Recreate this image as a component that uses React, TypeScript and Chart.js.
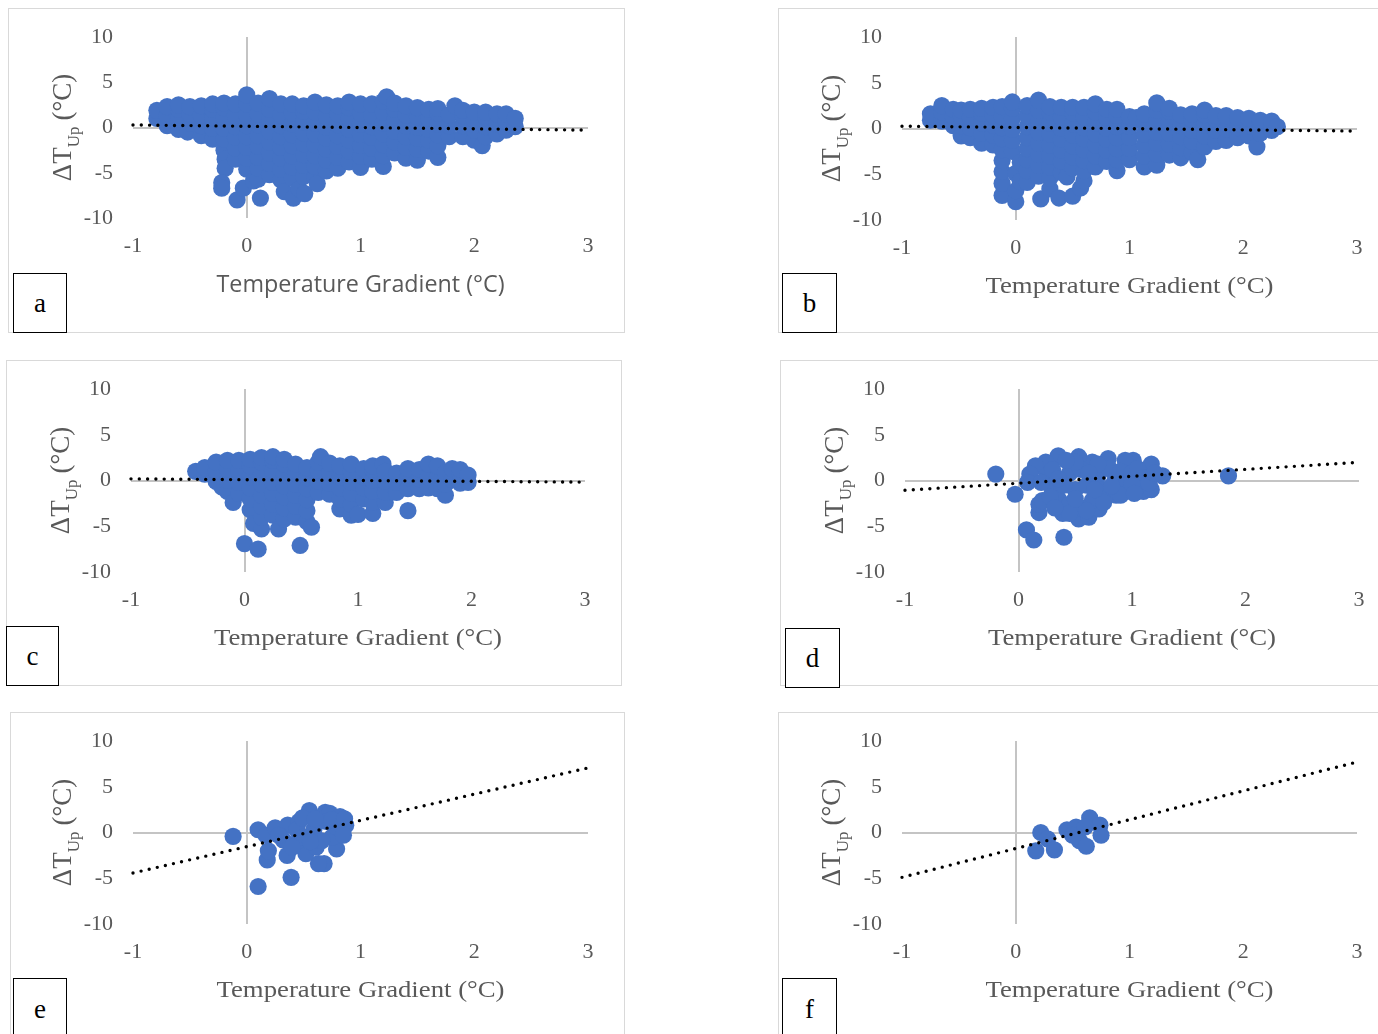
import React, { useEffect, useRef } from "react";
import { Chart, registerables } from "chart.js";

Chart.register(...registerables);

// Each cloud column: [gradient, [ΔT_Up values observed at that gradient]]
type Column = [number, number[]];

const X_MIN = -1;
const X_MAX = 3;
const Y_MIN = -10;
const Y_MAX = 10;
const X_STEP = 1;
const Y_STEP = 5;
const X_TITLE = "Temperature Gradient (°C)";
const Y_TITLE_MAIN = "ΔT";
const Y_TITLE_SUB = "Up";
const Y_TITLE_UNIT = "(°C)";
const PANEL_LETTERS = ["a", "b", "c", "d", "e", "f"];

const cloudA: Column[] = [
  [-0.79, [1.0, 1.9]],
  [-0.7, [0.2, 1.3, 2.3]],
  [-0.6, [-0.2, 0.9, 2.0, 2.5]],
  [-0.52, [-0.5]],
  [-0.5, [0.5, 1.5, 2.3]],
  [-0.4, [-0.9, 0.2, 1.3, 2.4]],
  [-0.3, [-1.3, -0.1, 1.0, 2.0, 2.6]],
  [-0.2, [-2.5, -1.3, -0.1, 1.1, 2.2, 2.7]],
  [-0.19, [-3.5, -4.5]],
  [-0.22, [-6.1, -6.7]],
  [-0.1, [-3.5, -2.3, -1.1, 0.1, 1.3, 2.6]],
  [-0.085, [-8.0]],
  [0.0, [-4.6, -3.4, -2.2, -1.0, 0.2, 1.4, 2.6, 3.6]],
  [-0.03, [-6.7]],
  [0.06, [-5.9]],
  [0.1, [-5.7, -4.5, -3.3, -2.1, -0.9, 0.3, 1.5, 2.7]],
  [0.12, [-7.8]],
  [0.2, [-5.2, -4.0, -2.8, -1.6, -0.4, 0.8, 2.0, 3.2]],
  [0.3, [-5.8, -4.6, -3.4, -2.2, -1.0, 0.2, 1.4, 2.6]],
  [0.33, [-7.1]],
  [0.4, [-5.6, -4.4, -3.2, -2.0, -0.8, 0.4, 1.6, 2.6]],
  [0.41, [-7.8]],
  [0.46, [-6.8]],
  [0.5, [-5.4, -4.2, -3.0, -1.8, -0.6, 0.6, 1.8, 2.4]],
  [0.51, [-7.3]],
  [0.6, [-5.5, -4.3, -3.1, -1.9, -0.7, 0.5, 1.7, 2.8]],
  [0.62, [-6.2]],
  [0.7, [-4.8, -3.6, -2.4, -1.2, 0.0, 1.2, 2.5]],
  [0.8, [-4.5, -3.3, -2.1, -0.9, 0.3, 1.5, 2.4]],
  [0.9, [-3.8, -2.6, -1.4, -0.2, 1.0, 2.2, 2.8]],
  [1.0, [-4.4, -3.2, -2.0, -0.8, 0.4, 1.6, 2.6]],
  [1.1, [-3.5, -2.3, -1.1, 0.1, 1.3, 2.6]],
  [1.2, [-4.3, -3.1, -1.9, -0.7, 0.5, 1.7, 2.9]],
  [1.23, [3.4]],
  [1.3, [-2.8, -1.6, -0.4, 0.8, 2.0, 2.7]],
  [1.4, [-3.4, -2.2, -1.0, 0.2, 1.4, 2.4]],
  [1.5, [-3.6, -2.4, -1.2, 0.0, 1.2, 2.2]],
  [1.6, [-2.6, -1.4, -0.2, 1.0, 2.0]],
  [1.68, [-3.3, -2.0, -0.8, 0.4, 1.6, 2.1]],
  [1.78, [-1.0, 0.2, 1.4]],
  [1.83, [2.4]],
  [1.9, [-1.0, 0.2, 1.3, 1.9]],
  [2.0, [-1.4, -0.3, 0.8, 1.7]],
  [2.07, [-2.0]],
  [2.1, [-1.0, 0.1, 1.2, 1.7]],
  [2.2, [-0.7, 0.4, 1.5]],
  [2.28, [-0.3, 0.7, 1.5]],
  [2.36, [0.1, 1.0]],
];

const cloudB: Column[] = [
  [-0.75, [0.9, 1.6]],
  [-0.65, [0.8, 1.8, 2.5]],
  [-0.55, [0.3, 1.3, 2.1]],
  [-0.48, [-0.8, 0.3, 1.4, 2.0]],
  [-0.4, [-1.0, 0.1, 1.2, 2.1]],
  [-0.3, [-1.6, -0.5, 0.6, 1.7, 2.2]],
  [-0.2, [-1.8, -0.7, 0.4, 1.5, 2.3]],
  [-0.12, [-7.3, -6.0, -4.7, -3.5, -2.3, -1.1, 0.1, 1.3, 2.4]],
  [-0.03, [-2.5, -1.3, -0.1, 1.1, 2.2, 2.9]],
  [0.0, [-8.0, -6.8, -4.9]],
  [0.04, [-3.7, -5.8]],
  [0.1, [-5.9, -4.6, -3.4, -2.2, -1.0, 0.2, 1.4, 2.5]],
  [0.2, [-5.2, -4.0, -2.8, -1.6, -0.4, 0.8, 2.0, 3.1]],
  [0.22, [-7.7]],
  [0.3, [-6.6, -5.4, -4.2, -3.0, -1.8, -0.6, 0.6, 1.8, 2.4]],
  [0.38, [-7.6]],
  [0.4, [-4.8, -3.6, -2.4, -1.2, 0.0, 1.2, 2.3]],
  [0.45, [-5.3]],
  [0.5, [-7.4, -4.3, -3.1, -1.9, -0.7, 0.5, 1.7, 2.3]],
  [0.57, [-6.5]],
  [0.6, [-5.7, -4.6, -3.5, -2.3, -1.1, 0.1, 1.3, 2.3]],
  [0.7, [-4.2, -3.0, -1.8, -0.6, 0.6, 1.8, 2.7]],
  [0.8, [-3.6, -2.4, -1.2, 0.0, 1.2, 2.1]],
  [0.89, [-4.6, -3.4, -2.2, -1.0, 0.2, 1.4, 2.1]],
  [1.0, [-3.4, -2.2, -1.0, 0.2, 1.3]],
  [1.06, [1.2]],
  [1.13, [-4.2, -3.0, -1.8, -0.6, 0.6, 1.6]],
  [1.24, [-4.0, -2.8, -1.6, -0.4, 0.8, 2.0, 2.8]],
  [1.35, [-2.9, -1.7, -0.5, 0.7, 1.9, 2.2]],
  [1.45, [-3.2, -2.1, -0.9, 0.3, 1.5]],
  [1.55, [-2.6, -1.4, -0.2, 1.0, 1.6]],
  [1.6, [-3.4]],
  [1.66, [-2.0, -0.8, 0.4, 1.5, 2.0]],
  [1.76, [-1.4, -0.2, 1.0, 1.4]],
  [1.85, [-1.3, -0.1, 1.1, 1.4]],
  [1.95, [-1.0, 0.1, 1.2]],
  [2.05, [-0.8, 0.3, 1.1]],
  [2.12, [-2.0]],
  [2.15, [-0.5, 0.5, 0.9]],
  [2.25, [-0.2, 0.8]],
  [2.3, [0.2]],
];

const cloudC: Column[] = [
  [-0.43, [1.0]],
  [-0.35, [0.7, 1.4]],
  [-0.25, [-0.1, 1.0, 2.0]],
  [-0.2, [-0.7]],
  [-0.15, [-1.2, 0.0, 1.2, 2.2]],
  [-0.1, [-2.4]],
  [-0.05, [-1.4, -0.2, 1.0, 2.2]],
  [0.0, [-6.9]],
  [0.05, [-3.2, -2.0, -0.8, 0.4, 1.6, 2.3]],
  [0.08, [-4.7]],
  [0.12, [-7.5]],
  [0.15, [-5.3, -4.0, -2.8, -1.6, -0.4, 0.8, 2.0, 2.5]],
  [0.25, [-3.8, -2.6, -1.4, -0.2, 1.0, 2.2, 2.6]],
  [0.3, [-5.3]],
  [0.35, [-4.2, -3.0, -1.8, -0.6, 0.6, 1.8, 2.3]],
  [0.45, [-4.0, -2.8, -1.6, -0.4, 0.8, 1.8]],
  [0.49, [-7.1]],
  [0.55, [-4.5, -3.3, -2.1, -0.9, 0.3, 1.4]],
  [0.59, [-5.1]],
  [0.65, [-1.3, -0.1, 1.1, 2.0]],
  [0.67, [2.6]],
  [0.75, [-1.5, -0.3, 0.9, 1.9]],
  [0.84, [-3.1, -2.0, -0.8, 0.4, 1.6]],
  [0.94, [-3.8, -2.6, -1.4, -0.2, 1.0, 1.8]],
  [1.0, [-3.7]],
  [1.05, [-2.0, -0.8, 0.4, 1.3]],
  [1.13, [-3.6, -2.4, -1.2, 0.0, 1.2, 1.6]],
  [1.22, [1.8]],
  [1.24, [-2.4, -1.3, -0.1, 1.0]],
  [1.34, [-1.3, -0.2, 0.8]],
  [1.44, [-3.3, -0.9, 0.3, 1.3]],
  [1.54, [-0.9, 0.2, 1.2]],
  [1.62, [-0.8, 0.4, 1.8]],
  [1.7, [-0.9, 0.3, 1.6]],
  [1.77, [-1.6, -0.4, 0.8]],
  [1.83, [0.1, 1.3]],
  [1.9, [-0.3, 0.7, 1.2]],
  [1.97, [-0.2, 0.6]],
];

const gradD = [
  -0.2, -0.03, 0.07, 0.135, 0.4, 1.85, 0.18, 0.18, 0.21, 0.39, 0.53, 0.62, 0.71, 0.86, 1.1, 1.17, 1.27,
  1.17, 1.01, 0.94, 0.79, 0.65, 0.53, 0.35, 0.24, 0.15, 0.1, 0.08, 0.25, 0.3, 0.35, 0.45, 0.5, 0.45,
  0.55, 0.6, 0.65, 0.7, 0.75, 0.8, 0.85, 0.9, 0.95, 1.0, 1.05, 1.1, 1.15, 1.2, 0.55, 0.45, 0.6, 0.75,
  0.4, 0.3, 0.2, 0.5, 0.7, 0.9, 0.42, 0.62, 0.35, 0.28, 0.82, 1.0, 0.32, 0.5, 0.67, 1.02,
];
const deltaD = [
  0.7, -1.5, -5.4, -6.5, -6.2, 0.5, -3.5, -2.6, -2.2, -3.6, -4.2, -4.0, -3.1, -1.6, -1.2, -1.0, 0.5,
  1.8, 2.2, 2.2, 2.4, 2.0, 2.6, 2.7, 2.0, 1.6, 0.7, -0.2, 0.5, -1.0, -2.0, -2.6, -1.0, 0.8,
  1.2, -0.5, -2.2, 0.5, -1.0, 1.3, 0.0, 1.0, -0.5, 0.8, 1.3, 0.3, -0.3, 0.8, -3.0, -3.6, -3.3, -2.4,
  -0.5, 1.2, -0.2, 2.0, 1.8, -1.6, 2.2, 0.8, 0.2, -1.8, -0.6, -0.4, -3.0, -2.0, -1.0, -1.4,
];

const gradE = [
  -0.12, 0.1, 0.39, 0.355, 0.18, 0.19, 0.1, 0.17, 0.25, 0.36, 0.46, 0.55, 0.69, 0.73, 0.82, 0.87, 0.79,
  0.68, 0.63, 0.52, 0.61, 0.75, 0.46, 0.32, 0.59, 0.79, 0.7, 0.44, 0.5, 0.66, 0.49, 0.75, 0.86, 0.6,
  0.85, 0.28, 0.4, 0.56,
];
const deltaE = [
  -0.43, -5.9, -4.9, -2.5, -3.0, -2.0, 0.3, -0.3, 0.5, 0.8, 1.2, 2.4, 2.2, 2.1, 1.75, 0.8, -1.8,
  -3.4, -3.4, -2.3, -1.6, -0.5, -0.8, -0.8, 0.3, 0.6, 1.2, 0.3, -0.5, -0.9, 1.6, 1.4, 1.5, 1.5,
  -0.3, -0.3, -1.6, -1.0,
];

const gradF = [0.176, 0.22, 0.28, 0.34, 0.45, 0.53, 0.5, 0.56, 0.62, 0.65, 0.74, 0.75, 0.61];
const deltaF = [-2.0, 0.0, -0.7, -1.9, 0.3, 0.6, -0.3, -0.9, -1.5, 1.6, 0.8, -0.3, 0.6];

// Linear trend lines, given as their value at x = -1 and at x = 3
const trendA = [0.28, -0.29];
const trendB = [0.25, -0.28];
const trendC = [0.18, -0.18];
const trendD = [-1.06, 1.98];
const trendE = [-4.42, 7.06];
const trendF = [-4.9, 7.7];

const POINT_COLOR = "#4472C4";
const TEXT_COLOR = "#595959";
const ZERO_LINE = "#c4c4c4";
const PANEL_BORDER = "#d9d9d9";
const SERIF = "'Liberation Serif', 'Times New Roman', serif";
const SANS = "'Open Sans', 'Noto Sans', sans-serif";

// Space reserved around each plot area inside its canvas
const PAD = { l: 125, t: 25, r: 30, b: 90 };

type Pt = { x: number; y: number };

const fromColumns = (cols: Column[]): Pt[] =>
  cols.flatMap(([x, ys]) => ys.map((y) => ({ x, y })));
const fromPairs = (xs: number[], ys: number[]): Pt[] => xs.map((x, i) => ({ x, y: ys[i] }));

interface PanelSpec {
  letter: string;
  points: Pt[];
  trend: number[];
  area: { l: number; t: number; r: number; b: number };
  box: { x: number; y: number; w: number; h: number; openRight?: boolean; openBottom?: boolean };
  tag: { x: number; y: number; w: number; h: number };
  sansTitle?: boolean;
}

const PANELS: PanelSpec[] = [
  {
    letter: PANEL_LETTERS[0],
    points: fromColumns(cloudA),
    trend: trendA,
    area: { l: 133, t: 37, r: 588, b: 218 },
    box: { x: 8, y: 8, w: 617, h: 325 },
    tag: { x: 13, y: 273, w: 54, h: 60 },
    sansTitle: true,
  },
  {
    letter: PANEL_LETTERS[1],
    points: fromColumns(cloudB),
    trend: trendB,
    area: { l: 902, t: 37, r: 1357, b: 220 },
    box: { x: 778, y: 8, w: 600, h: 325, openRight: true },
    tag: { x: 782, y: 273, w: 55, h: 60 },
  },
  {
    letter: PANEL_LETTERS[2],
    points: fromColumns(cloudC),
    trend: trendC,
    area: { l: 131, t: 389, r: 585, b: 572 },
    box: { x: 6, y: 360, w: 616, h: 326 },
    tag: { x: 6, y: 626, w: 53, h: 60 },
  },
  {
    letter: PANEL_LETTERS[3],
    points: fromPairs(gradD, deltaD),
    trend: trendD,
    area: { l: 905, t: 389, r: 1359, b: 572 },
    box: { x: 780, y: 360, w: 598, h: 326, openRight: true },
    tag: { x: 785, y: 628, w: 55, h: 60 },
  },
  {
    letter: PANEL_LETTERS[4],
    points: fromPairs(gradE, deltaE),
    trend: trendE,
    area: { l: 133, t: 741, r: 588, b: 924 },
    box: { x: 10, y: 712, w: 615, h: 330, openBottom: true },
    tag: { x: 13, y: 978, w: 54, h: 62 },
  },
  {
    letter: PANEL_LETTERS[5],
    points: fromPairs(gradF, deltaF),
    trend: trendF,
    area: { l: 902, t: 741, r: 1357, b: 924 },
    box: { x: 778, y: 712, w: 600, h: 330, openRight: true, openBottom: true },
    tag: { x: 782, y: 978, w: 55, h: 62 },
  },
];

// Axis titles: the x title is centred under the plot, the y title is rotated and carries a subscript
const titlesPlugin = (sans: boolean) => ({
  id: "panelTitles",
  afterDraw(chart: any) {
    const { ctx, chartArea: a } = chart;
    ctx.save();
    ctx.fillStyle = TEXT_COLOR;

    ctx.font = sans ? `23px ${SANS}` : `23px ${SERIF}`;
    ctx.textAlign = "center";
    ctx.textBaseline = "middle";
    const w = ctx.measureText(X_TITLE).width;
    ctx.translate((a.left + a.right) / 2, a.bottom + 67);
    ctx.scale(288 / w, 1);
    ctx.fillText(X_TITLE, 0, 0);
    ctx.restore();

    ctx.save();
    ctx.fillStyle = TEXT_COLOR;
    ctx.translate(a.left - 62, (a.top + a.bottom) / 2);
    ctx.rotate(-Math.PI / 2);
    ctx.textAlign = "left";
    ctx.textBaseline = "alphabetic";
    const mainFont = `27px ${SERIF}`;
    const subFont = `17px ${SERIF}`;
    const gap = 6;
    ctx.font = mainFont;
    const w1 = ctx.measureText(Y_TITLE_MAIN).width;
    const w3 = ctx.measureText(Y_TITLE_UNIT).width;
    ctx.font = subFont;
    const w2 = ctx.measureText(Y_TITLE_SUB).width;
    let p = -(w1 + w2 + gap + w3) / 2;
    ctx.font = mainFont;
    ctx.fillText(Y_TITLE_MAIN, p, 0);
    p += w1;
    ctx.font = subFont;
    ctx.fillText(Y_TITLE_SUB, p, 8);
    p += w2 + gap;
    ctx.font = mainFont;
    ctx.fillText(Y_TITLE_UNIT, p, 0);
    ctx.restore();
  },
});

const zeroGrid = (ctx: any) => (ctx.tick && ctx.tick.value === 0 ? ZERO_LINE : "rgba(0,0,0,0)");

function makeConfig(spec: PanelSpec): any {
  const tickFont = { family: SERIF, size: 22 };
  const fit = { b: PAD.b };
  return {
    type: "scatter",
    data: {
      datasets: [
        {
          data: [
            { x: X_MIN, y: spec.trend[0] },
            { x: X_MAX, y: spec.trend[1] },
          ],
          showLine: true,
          borderColor: "#000000",
          borderWidth: 3.4,
          borderDash: [0, 8.3],
          borderCapStyle: "round",
          pointRadius: 0,
          pointHoverRadius: 0,
          clip: false,
        },
        {
          data: spec.points,
          backgroundColor: POINT_COLOR,
          borderColor: POINT_COLOR,
          borderWidth: 0,
          pointRadius: 8.6,
          pointHoverRadius: 8.6,
          clip: false,
        },
      ],
    },
    options: {
      animation: false,
      responsive: false,
      devicePixelRatio: 1,
      events: [],
      layout: { padding: { left: 0, top: PAD.t, right: PAD.r, bottom: 0 } },
      plugins: { legend: { display: false }, tooltip: { enabled: false } },
      scales: {
        x: {
          type: "linear",
          min: X_MIN,
          max: X_MAX,
          ticks: { stepSize: X_STEP, padding: 15, font: tickFont, color: TEXT_COLOR, callback: (v: number) => String(v) },
          grid: { drawTicks: false, color: zeroGrid, lineWidth: 2 },
          border: { display: false },
          afterFit: (s: any) => {
            s.height = fit.b;
          },
        },
        y: {
          type: "linear",
          min: Y_MIN,
          max: Y_MAX,
          ticks: { stepSize: Y_STEP, padding: 20, font: tickFont, color: TEXT_COLOR, callback: (v: number) => String(v) },
          grid: { drawTicks: false, color: zeroGrid, lineWidth: 2 },
          border: { display: false },
          afterFit: (s: any) => {
            s.width = PAD.l;
            // the label overhang is already covered by the layout padding
            s.paddingTop = 0;
            s.paddingBottom = 0;
          },
        },
      },
    },
    plugins: [titlesPlugin(!!spec.sansTitle)],
    _fit: fit,
  };
}

function Panel({ spec }: { spec: PanelSpec }) {
  const ref = useRef<HTMLCanvasElement | null>(null);
  const a = spec.area;
  const w = a.r - a.l + PAD.l + PAD.r;
  const h = a.b - a.t + PAD.t + PAD.b;

  useEffect(() => {
    if (!ref.current) return;
    const cfg = makeConfig(spec);
    const chart: any = new Chart(ref.current, cfg);
    // Nudge the layout so the plot area sits exactly where the axes belong
    for (let i = 0; i < 3; i++) {
      const ca = chart.chartArea;
      const errTop = ca.top - PAD.t;
      const errBottom = ca.bottom - (h - PAD.b);
      if (Math.abs(errTop) < 0.5 && Math.abs(errBottom) < 0.5) break;
      chart.options.layout.padding.top -= errTop;
      cfg._fit.b += errBottom;
      chart.update();
    }
    return () => chart.destroy();
  }, [spec]);

  const b = spec.box;
  const border = `1px solid ${PANEL_BORDER}`;
  return (
    <>
      <div
        style={{
          position: "absolute",
          left: b.x,
          top: b.y,
          width: b.w,
          height: b.h,
          boxSizing: "border-box",
          borderTop: border,
          borderLeft: border,
          borderRight: b.openRight ? "none" : border,
          borderBottom: b.openBottom ? "none" : border,
        }}
      />
      <canvas
        ref={ref}
        width={w}
        height={h}
        style={{ position: "absolute", left: a.l - PAD.l, top: a.t - PAD.t, width: w, height: h }}
      />
      <div
        style={{
          position: "absolute",
          left: spec.tag.x,
          top: spec.tag.y,
          width: spec.tag.w,
          height: spec.tag.h,
          boxSizing: "border-box",
          border: "1px solid #000000",
          background: "#ffffff",
          display: "flex",
          alignItems: "center",
          justifyContent: "center",
          fontFamily: SERIF,
          fontSize: 27,
          color: "#000000",
          lineHeight: 1,
        }}
      >
        {spec.letter}
      </div>
    </>
  );
}

export default function App() {
  return (
    <div
      style={{
        position: "absolute",
        left: 0,
        top: 0,
        width: 1378,
        height: 1034,
        overflow: "hidden",
        background: "#ffffff",
      }}
    >
      {PANELS.map((p) => (
        <Panel key={p.letter} spec={p} />
      ))}
    </div>
  );
}
